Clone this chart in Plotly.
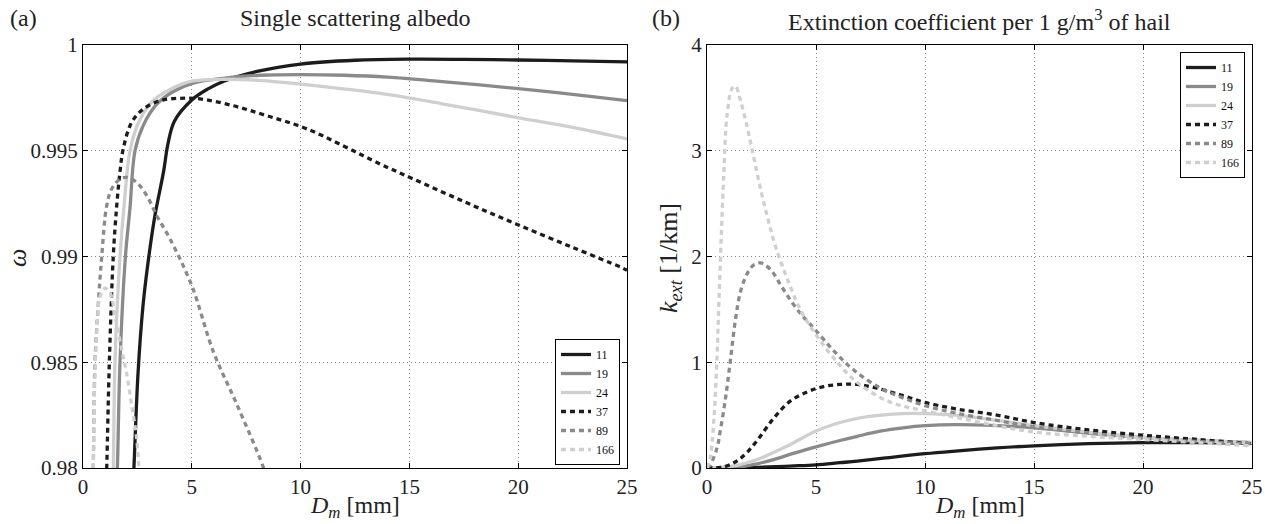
import plotly.graph_objects as go

# ---------------- data: panel (a) single scattering albedo ----------------
names = ["11", "19", "24", "37", "89", "166"]

a11_x = [2.25, 2.34, 2.53, 2.76, 3.0, 3.3, 3.7, 3.9, 4.2, 5.0, 5.7, 6.5, 8, 10, 12.5, 15, 17.5, 20, 22.5, 25]
a11_y = [0.978, 0.980, 0.9845, 0.9877, 0.9898, 0.9919, 0.9940, 0.9953, 0.9964, 0.9974, 0.9979, 0.9983,
         0.99875, 0.9991, 0.99928, 0.99933, 0.99932, 0.99929, 0.99925, 0.9992]

a19_x = [1.5, 1.58, 1.70, 1.95, 2.16, 2.39, 2.77, 3.39, 4.15, 5.06, 6.6, 8.1, 10, 12, 14, 16.5, 19.9, 22.5, 25]
a19_y = [0.978, 0.980, 0.985, 0.990, 0.9923, 0.995, 0.9962, 0.9972, 0.9978, 0.9982, 0.99845, 0.99857,
         0.9986, 0.99857, 0.99848, 0.99827, 0.99795, 0.99767, 0.99737]

a24_x = [1.3, 1.39, 1.47, 1.70, 1.88, 2.16, 2.54, 3.15, 4.0, 5.06, 6.6, 8.1, 10.2, 13.6, 16.5, 19.9, 22.5, 25]
a24_y = [0.977, 0.980, 0.985, 0.990, 0.9923, 0.995, 0.9963, 0.9973, 0.9979, 0.9983, 0.99838, 0.99833,
         0.99813, 0.99772, 0.99722, 0.99658, 0.9961, 0.99556]

a37_x = [1.0, 1.09, 1.21, 1.39, 1.55, 1.7, 1.85, 2.24, 2.77, 3.54, 4.46, 5.38, 6.9, 8.44, 10.3, 13.6,
         15.1, 17.5, 19.9, 22.5, 24.7, 25]
a37_y = [0.977, 0.980, 0.985, 0.990, 0.9924, 0.9940, 0.9951, 0.99635, 0.99697, 0.99737, 0.99748, 0.99745,
         0.99713, 0.99666, 0.99603, 0.9944, 0.9937, 0.9926, 0.99154, 0.99043, 0.9895, 0.98935]

a89_x = [0.4, 0.47, 0.55, 0.70, 0.86, 1.09, 1.32, 1.70, 2.0, 2.46, 2.93, 3.39, 4.0, 5.0, 6.0, 7.03, 8.3, 8.6]
a89_y = [0.977, 0.980, 0.985, 0.9877, 0.990, 0.9924, 0.9932, 0.99366, 0.99374, 0.99351, 0.99288, 0.99193,
         0.99083, 0.98862, 0.98547, 0.9831, 0.980, 0.979]

a166_x = [0.42, 0.47, 0.55, 0.66, 0.78, 1.01, 1.24, 1.47, 1.78, 2.0, 2.24, 2.47, 2.57, 2.65]
a166_y = [0.977, 0.980, 0.9845, 0.9869, 0.9881, 0.9885, 0.9883, 0.9872, 0.9856, 0.9845, 0.98295, 0.98137,
          0.980, 0.979]

# ---------------- data: panel (b) extinction coefficient ----------------
b11_x = [0, 2, 4, 5, 6.1, 6.9, 8, 10, 11.4, 13.3, 15, 17.5, 20, 22.5, 25]
b11_y = [0, 0.005, 0.02, 0.03, 0.05, 0.065, 0.09, 0.135, 0.16, 0.19, 0.21, 0.23, 0.24, 0.24, 0.235]

b19_x = [0, 1.5, 2.3, 3.06, 4.0, 5.0, 6.1, 6.9, 8.0, 9.0, 10, 11.4, 13.3, 15, 17.5, 20, 22.5, 25]
b19_y = [0, 0.01, 0.04, 0.08, 0.14, 0.20, 0.26, 0.30, 0.35, 0.38, 0.40, 0.41, 0.40, 0.38, 0.33, 0.29, 0.26, 0.24]

b24_x = [0, 1.23, 2.3, 2.77, 3.8, 5.0, 6.1, 6.9, 8.0, 9.0, 10, 11.4, 13.3, 15, 17.5, 20, 22.5, 25]
b24_y = [0, 0.02, 0.08, 0.12, 0.22, 0.35, 0.43, 0.47, 0.50, 0.515, 0.515, 0.50, 0.45, 0.40, 0.34, 0.29, 0.26, 0.24]

b37_x = [0, 0.76, 1.23, 1.53, 1.85, 2.3, 3.06, 3.8, 4.6, 5.35, 6.1, 6.9, 7.7, 8.9, 10, 11.4, 13.3, 15, 17.5, 20, 22.5, 25]
b37_y = [0, 0.01, 0.05, 0.09, 0.15, 0.26, 0.47, 0.63, 0.72, 0.77, 0.79, 0.79, 0.76, 0.69, 0.62, 0.56, 0.50,
         0.43, 0.36, 0.31, 0.27, 0.23]

b89_x = [0, 0.15, 0.46, 0.6, 0.85, 1.08, 1.31, 1.54, 1.85, 2.15, 2.46, 2.92, 3.38, 3.92, 4.46, 5.0, 5.85,
         6.77, 8.0, 8.9, 10, 11.4, 13.3, 15, 17.5, 20, 22.5, 25]
b89_y = [0, 0.03, 0.19, 0.34, 0.66, 1.03, 1.41, 1.67, 1.84, 1.92, 1.94, 1.875, 1.73, 1.56, 1.42, 1.30, 1.10,
         0.92, 0.75, 0.67, 0.59, 0.52, 0.45, 0.39, 0.33, 0.28, 0.25, 0.23]

b166_x = [0, 0.15, 0.31, 0.46, 0.54, 0.65, 0.77, 0.92, 1.15, 1.31, 1.54, 1.85, 2.08, 2.4, 2.77, 3.15, 3.7,
          4.3, 5.0, 5.85, 6.77, 8.0, 8.9, 10, 11.4, 13.3, 15, 17.5, 20, 22.5, 25]
b166_y = [0, 0.1, 0.44, 1.06, 1.53, 2.16, 2.78, 3.34, 3.59, 3.61, 3.47, 3.22, 3.0, 2.69, 2.375, 2.09, 1.78,
          1.49, 1.26, 1.03, 0.83, 0.66, 0.59, 0.54, 0.48, 0.40, 0.34, 0.30, 0.27, 0.24, 0.21]

x_ticks = [0, 5, 10, 15, 20, 25]
a_yticks = [0.98, 0.985, 0.99, 0.995, 1.0]
a_yticktext = ["0.98", "0.985", "0.99", "0.995", "1"]
b_yticks = [0, 1, 2, 3, 4]

# ---------------- styling ----------------
FONT = "Liberation Serif"
TXT = "#222222"
BLACK, MID, LIGHT = "#1c1c1c", "#8a8a8a", "#cfcfcf"
styles = {
    "11": dict(color=BLACK, dash="solid"),
    "19": dict(color=MID, dash="solid"),
    "24": dict(color=LIGHT, dash="solid"),
    "37": dict(color=BLACK, dash="5px,4px"),
    "89": dict(color=MID, dash="5px,4px"),
    "166": dict(color=LIGHT, dash="5px,4px"),
}

series_a = {"11": (a11_x, a11_y), "19": (a19_x, a19_y), "24": (a24_x, a24_y),
            "37": (a37_x, a37_y), "89": (a89_x, a89_y), "166": (a166_x, a166_y)}
series_b = {"11": (b11_x, b11_y), "19": (b19_x, b19_y), "24": (b24_x, b24_y),
            "37": (b37_x, b37_y), "89": (b89_x, b89_y), "166": (b166_x, b166_y)}

fig = go.Figure()
for n in names:
    xs, ys = series_a[n]
    fig.add_trace(go.Scatter(x=xs, y=ys, mode="lines", name=n, xaxis="x", yaxis="y", legend="legend",
                             line=dict(color=styles[n]["color"], dash=styles[n]["dash"], width=3.3,
                                       shape="spline", smoothing=1.0)))
for n in names:
    xs, ys = series_b[n]
    fig.add_trace(go.Scatter(x=xs, y=ys, mode="lines", name=n, xaxis="x2", yaxis="y2", legend="legend2",
                             line=dict(color=styles[n]["color"], dash=styles[n]["dash"], width=3.3,
                                       shape="spline", smoothing=1.0)))

W, H = 1265, 524
ydom = [1 - 468 / H, 1 - 45 / H]
axis_common = dict(showline=True, linecolor="black", linewidth=1.2, mirror="ticks", ticks="inside",
                   ticklen=5, tickcolor="black", showgrid=True, gridcolor="#8c8c8c", griddash="1px,3px",
                   gridwidth=1, zeroline=False, automargin=False,
                   tickfont=dict(family=FONT, size=21, color=TXT))

legend_common = dict(bgcolor="white", bordercolor="black", borderwidth=1,
                     font=dict(family=FONT, size=12, color="#111111"), itemwidth=30, tracegroupgap=0)

fig.update_layout(
    width=W, height=H, margin=dict(l=0, r=0, t=0, b=0),
    plot_bgcolor="white", paper_bgcolor="white",
    xaxis=dict(domain=[83 / W, 627 / W], range=[0, 25], tickvals=x_ticks, anchor="y", **axis_common),
    yaxis=dict(domain=ydom, range=[0.98, 1.0], tickvals=a_yticks, ticktext=a_yticktext, anchor="x", **axis_common),
    xaxis2=dict(domain=[707 / W, 1252 / W], range=[0, 25], tickvals=x_ticks, anchor="y2", **axis_common),
    yaxis2=dict(domain=ydom, range=[0, 4], tickvals=b_yticks, anchor="x2", **axis_common),
    legend=dict(x=620 / W, y=1 - 465 / H, xanchor="right", yanchor="bottom", **legend_common),
    legend2=dict(x=1245 / W, y=1 - 52 / H, xanchor="right", yanchor="top", **legend_common),
    showlegend=True,
)

ann_font = dict(family=FONT, size=24, color=TXT)
label_font = dict(family=FONT, size=26, color=TXT)
xlabel_font = dict(family=FONT, size=24, color=TXT)
fig.add_annotation(text="Single scattering albedo", x=(83 + 627) / 2 / W, y=1 - 18 / H, xref="paper", yref="paper",
                   showarrow=False, font=ann_font, xanchor="center", yanchor="middle")
fig.add_annotation(text="Extinction coefficient per 1 g/m<sup>3</sup> of hail", x=(707 + 1252) / 2 / W, y=1 - 20 / H,
                   xref="paper", yref="paper", showarrow=False, font=ann_font, xanchor="center", yanchor="middle")
fig.add_annotation(text="(a)", x=8 / W, y=1 - 18 / H, xref="paper", yref="paper", showarrow=False,
                   font=ann_font, xanchor="left", yanchor="middle")
fig.add_annotation(text="(b)", x=650 / W, y=1 - 18 / H, xref="paper", yref="paper", showarrow=False,
                   font=ann_font, xanchor="left", yanchor="middle")
for cx in [(83 + 627) / 2, (707 + 1252) / 2]:
    fig.add_annotation(text="<i>D</i><sub><i>m</i></sub> [mm]", x=cx / W, y=1 - 523.5 / H, xref="paper", yref="paper",
                       showarrow=False, font=xlabel_font, xanchor="center", yanchor="bottom")
fig.add_annotation(text="<i>ω</i>", x=17 / W, y=1 - 258 / H, xref="paper", yref="paper", showarrow=False,
                   font=label_font, textangle=-90, xanchor="center", yanchor="middle")
fig.add_annotation(text="<i>k<sub>ext</sub></i> [1/km]", x=670 / W, y=1 - 258 / H, xref="paper", yref="paper",
                   showarrow=False, font=label_font, textangle=-90, xanchor="center", yanchor="middle")

fig.write_html("out.html", config={"displayModeBar": False},
               post_script="document.body.style.margin='0';document.body.style.overflow='hidden';")
